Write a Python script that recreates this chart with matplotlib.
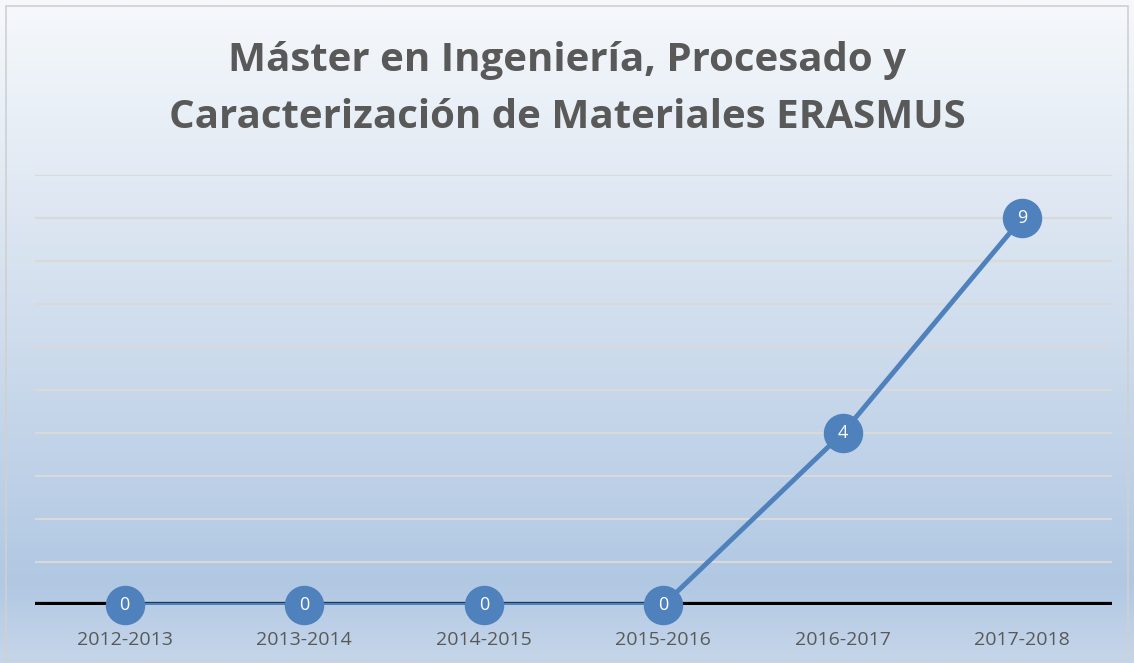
import numpy as np
import matplotlib.pyplot as plt
from matplotlib.colors import LinearSegmentedColormap
from matplotlib.patches import Rectangle

cursos = ['2012-2013', '2013-2014', '2014-2015', '2015-2016', '2016-2017', '2017-2018']
alumnos = [0, 0, 0, 0, 4, 9]
titulo = 'Máster en Ingeniería, Procesado y\nCaracterización de Materiales ERASMUS'

W, H = 1134, 663
fig = plt.figure(figsize=(W / 100, H / 100), dpi=100)

# fondo degradado
bg = fig.add_axes([0, 0, 1, 1], zorder=0)
cmap = LinearSegmentedColormap.from_list('fondo', [(0.0, '#f6f9fc'), (0.35, '#dbe5f1'),
                                                   (0.88, '#b1c8e3'), (1.0, '#c6d6ea')])
grad = np.linspace(0, 1, 256).reshape(-1, 1)
bg.imshow(grad, aspect='auto', cmap=cmap, extent=[0, 1, 1, 0])
bg.set_xlim(0, 1)
bg.set_ylim(1, 0)
bg.axis('off')
bg.add_patch(Rectangle((6 / W, 6 / H), 1 - 12 / W, 1 - 8 / H, fill=False,
                       edgecolor='#d0d0d0', linewidth=1.2))

ax = fig.add_axes([35 / W, (H - 605) / H, (1112 - 35) / W, (605 - 175) / H], zorder=1)
ax.patch.set_alpha(0)
x = np.arange(len(cursos))
ax.set_xlim(-0.5, len(cursos) - 0.5)
ax.set_ylim(0, 10)
for v in range(1, 11):
    ax.axhline(v, color='#d9d9d9', linewidth=1.5, zorder=1)
ax.axhline(0, color='black', linewidth=4.5, zorder=2)

ax.plot(x, alumnos, color='#4f81bd', linewidth=3.5, zorder=3, solid_capstyle='round')
ax.scatter(x, alumnos, s=38 ** 2 * 0.52, color='#4f81bd', zorder=4, clip_on=False)
for xi, v in zip(x, alumnos):
    ax.text(xi, v, str(v), color='white', fontsize=13, ha='center', va='center',
            family='Open Sans', zorder=5)

for s in ax.spines.values():
    s.set_visible(False)
ax.set_yticks([])
ax.set_xticks(x)
ax.set_xticklabels(cursos, fontsize=14, color='#595959', family='Open Sans')
ax.tick_params(axis='x', length=0, pad=19)

fig.text(0.5, 1 - 89 / H, titulo, ha='center', va='center', fontsize=29, fontweight='bold',
         color='#595959', family='Open Sans', linespacing=1.62)

fig.savefig('out.png', dpi=100)
